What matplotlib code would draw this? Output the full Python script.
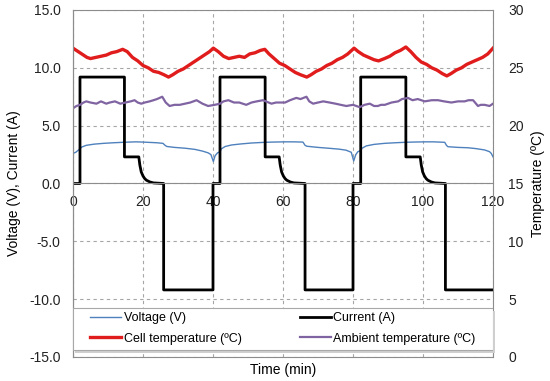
import matplotlib
matplotlib.use("Agg")
from matplotlib import pyplot as plt
from matplotlib.patches import Rectangle

plt.rcParams["font.family"] = ["Liberation Sans", "DejaVu Sans"]

# datos (tiempo en min)
volt_t = [0, 0.8, 2.0, 2.5, 3.8, 6, 8.7, 11.5, 14.3, 16, 18, 20, 22, 24, 25.7, 26.3, 26.8, 29, 32,
          34.8, 37, 38.6, 39.4, 40.1, 40.6, 41.3, 42.0, 42.4, 43.5, 45.3, 48, 51, 54.8, 57, 60.5, 63,
          65.7, 66.3, 66.8, 70, 73.3, 76, 78, 79.5, 80.2, 80.8, 81.4, 82.2, 82.6, 83.8, 86, 89, 92,
          94.8, 97, 100.5, 103, 106.2, 106.7, 107.1, 110, 112.8, 115, 117.6, 119, 119.5, 120]
volt_v = [2.6, 2.7, 3.0, 3.15, 3.3, 3.4, 3.47, 3.52, 3.56, 3.58, 3.6, 3.58, 3.55, 3.52, 3.47, 3.3,
          3.2, 3.12, 3.05, 2.95, 2.8, 2.65, 2.5, 1.9, 2.4, 2.65, 2.75, 3.0, 3.2, 3.33, 3.42, 3.5, 3.56,
          3.58, 3.6, 3.6, 3.58, 3.3, 3.22, 3.12, 3.04, 2.97, 2.88, 2.7, 1.95, 2.5, 2.75, 2.85, 3.05,
          3.25, 3.38, 3.47, 3.52, 3.56, 3.58, 3.6, 3.6, 3.56, 3.3, 3.18, 3.12, 3.09, 3.02, 2.9, 2.75,
          2.6, 2.3]

cur_t = [0, 2.0, 2.0, 14.7, 14.7, 18.8, 19.1, 19.5, 20.0, 20.5, 21.0, 22.0, 23.0, 25.9, 25.9, 40.0,
         40.0, 42.0, 42.0, 54.9, 54.9, 58.9, 59.2, 59.6, 60.1, 60.6, 61.1, 62.1, 63.1, 66.3, 66.3, 80.0,
         80.0, 82.2, 82.2, 95.1, 95.1, 99.2, 99.5, 99.9, 100.4, 100.9, 101.4, 102.4, 103.4, 106.4, 106.4, 120]
cur_v = [0, 0, 9.2, 9.2, 2.3, 2.3, 1.6, 1.0, 0.65, 0.42, 0.28, 0.13, 0.05, 0, -9.2, -9.2,
         0, 0, 9.2, 9.2, 2.3, 2.3, 1.6, 1.0, 0.65, 0.42, 0.28, 0.13, 0.05, 0, -9.2, -9.2,
         0, 0, 9.2, 9.2, 2.3, 2.3, 1.6, 1.0, 0.65, 0.42, 0.28, 0.13, 0.05, 0, -9.2, -9.2]

cell_t = [0, 1, 2.5, 4, 5, 6.5, 8, 9.5, 11, 12.5, 14.2, 15.5, 17, 18.5, 20, 21.5, 23, 24.5, 26, 27.3,
          28.5, 30, 31.5, 33, 34.5, 36, 37.5, 39, 40.1, 41.5, 43, 44.5, 46, 47.5, 49, 50.5, 52, 53.5,
          54.8, 56, 57.5, 59, 60.5, 62, 63.5, 65, 66.8, 68, 69.5, 71, 72.5, 74, 75.5, 77, 78.5, 80.3,
          81.5, 83, 84.5, 86, 87.3, 89, 90.5, 92, 93.5, 95.1, 96.5, 98, 99.5, 101, 102.5, 104, 105.5,
          106.8, 108, 109.5, 111, 112.5, 114, 115.5, 117, 118.5, 120]
cell_v = [26.7, 26.5, 26.2, 25.9, 25.8, 25.9, 26.0, 26.1, 26.3, 26.4, 26.6, 26.4, 25.9, 25.6, 25.2,
          25.0, 24.7, 24.6, 24.4, 24.2, 24.4, 24.7, 24.9, 25.2, 25.5, 25.8, 26.1, 26.4, 26.7, 26.4,
          26.0, 25.8, 25.9, 26.0, 25.9, 26.2, 26.3, 26.5, 26.6, 26.2, 25.8, 25.4, 25.2, 24.9, 24.6,
          24.4, 24.2, 24.4, 24.7, 24.9, 25.2, 25.4, 25.7, 25.9, 26.2, 26.7, 26.4, 26.1, 25.9, 25.7,
          25.6, 25.8, 26.0, 26.3, 26.5, 26.8, 26.4, 25.9, 25.5, 25.3, 25.0, 24.8, 24.5, 24.3, 24.5,
          24.8, 25.0, 25.3, 25.5, 25.7, 25.9, 26.2, 26.7]

amb_t = [0, 1, 2, 3, 3.8, 5, 6.7, 8, 9.5, 10.5, 12, 13.5, 15, 16.5, 17.6, 18.5, 19.5, 20.5, 21.9, 23,
         24, 25.5, 26.5, 27.6, 29, 30.5, 32, 33.5, 35.3, 37, 38.6, 40.5, 42, 43, 44.4, 46, 47.5, 49.5,
         51, 52.5, 54.3, 56.7, 58, 60.6, 62, 63.8, 65, 66.7, 67.5, 68.6, 70, 71.5, 73.3, 75, 76.5,
         78.1, 80, 81.9, 83.3, 84.8, 86, 87.1, 88, 89.1, 91, 92.9, 94, 95.7, 97, 98.5, 100.5, 102.5,
         104.3, 106, 108.1, 110, 111.9, 113, 114.3, 115.7, 116.5, 117.6, 119, 120]
amb_v = [21.5, 21.7, 21.8, 22.0, 22.1, 22.0, 21.9, 22.1, 21.9, 22.0, 22.1, 21.9, 22.0, 22.1, 22.2,
         22.0, 21.9, 22.0, 22.1, 22.2, 22.3, 22.5, 22.0, 21.7, 21.8, 21.8, 21.9, 22.0, 22.2, 21.9,
         21.7, 21.8, 21.9, 22.1, 22.2, 22.0, 22.0, 21.8, 22.0, 22.1, 22.2, 21.9, 22.0, 22.0, 22.2,
         22.4, 22.3, 22.5, 22.1, 21.9, 22.0, 22.1, 22.0, 21.9, 21.8, 21.7, 21.8, 21.6, 21.8, 21.9,
         21.7, 21.7, 21.8, 21.8, 22.0, 22.1, 22.3, 22.4, 22.2, 22.3, 22.1, 22.2, 22.2, 22.1, 22.0,
         22.1, 22.1, 22.2, 22.2, 21.7, 21.8, 21.8, 21.7, 21.9]

fig = plt.figure(figsize=(5.5, 3.81), dpi=100)
ax = fig.add_axes([0.1327, 0.063, 0.7637, 0.9108])
ax2 = ax.twinx()

l_volt, = ax.plot(volt_t, volt_v, color="#4f81bd", lw=1.0, label="Voltage (V)")
l_cur, = ax.plot(cur_t, cur_v, color="black", lw=2.0, label="Current (A)")
l_cell, = ax2.plot(cell_t, cell_v, color="#e01c1c", lw=2.4, label="Cell temperature (ºC)")
l_amb, = ax2.plot(amb_t, amb_v, color="#8064a2", lw=1.6, label="Ambient temperature (ºC)")

ax.set_xlim(0, 120)
ax.set_ylim(-15, 15)
ax2.set_ylim(0, 30)
ax.set_xticks(range(0, 121, 20))
ax.set_yticks([-15, -10, -5, 0, 5, 10, 15])
ax.set_yticklabels(["-15.0", "-10.0", "-5.0", "0.0", "5.0", "10.0", "15.0"])
ax2.set_yticks(range(0, 31, 5))

ax.grid(True, color="#a6a6a6", linestyle=(0, (3, 3)), lw=0.8)
ax.set_axisbelow(True)

# eje x sobre la linea de cero
ax.spines["bottom"].set_position(("data", 0))
ax.spines["bottom"].set_color("#8c8c8c")
ax.spines["top"].set_visible(False)
ax.spines["right"].set_visible(False)
ax.spines["left"].set_color("#8c8c8c")
for s in ax2.spines.values():
    s.set_color("#8c8c8c")

ax.tick_params(axis="x", length=0, pad=8, labelsize=10, colors="#222222")
ax.tick_params(axis="y", length=0, pad=9, labelsize=10, colors="#222222")
ax2.tick_params(axis="y", length=0, pad=11, labelsize=10, colors="#222222")

ax.set_ylabel("Voltage (V), Current (A)", fontsize=10, labelpad=6)
ax2.set_ylabel("Temperature (ºC)", fontsize=10, labelpad=5)
fig.text(0.515, 0.01, "Time (min)", ha="center", va="bottom", fontsize=10)

# caja de la leyenda con sombra
sombra = Rectangle((0.004, 0.011), 1.0, 0.121, transform=ax2.transAxes,
                   facecolor="#cfcfcf", edgecolor="none", zorder=4, clip_on=False)
caja = Rectangle((0, 0.02), 1.0, 0.121, transform=ax2.transAxes,
                 facecolor="white", edgecolor="#a8a8a8", lw=0.8, zorder=5)
ax2.add_patch(sombra)
ax2.add_patch(caja)

leg = ax2.legend(handles=[l_volt, l_cell, l_cur, l_amb], loc="center left",
                 bbox_to_anchor=(0.0405, 0.032, 0.918, 0.1), mode="expand", ncol=2,
                 fontsize=9, frameon=False, borderpad=0, borderaxespad=0,
                 handlelength=2.5, labelspacing=0.65, handletextpad=0.2)
leg.set_zorder(6)

plt.savefig("out.png", dpi=100)
